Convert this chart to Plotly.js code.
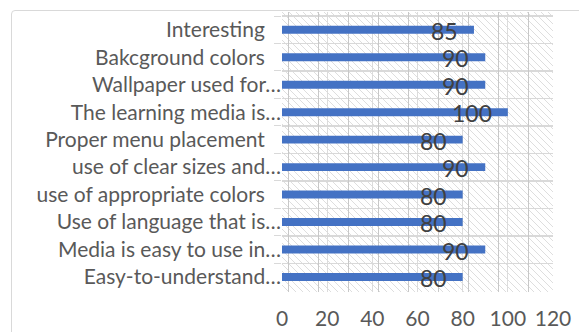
<!DOCTYPE html>
<html>
<head>
<meta charset="utf-8">
<script src="https://cdn.plot.ly/plotly-3.0.1.min.js"></script>
<style>
html,body{margin:0;padding:0;background:#fff;}
#wrap{position:relative;width:579px;height:332px;overflow:hidden;}
#chart{position:absolute;left:0;top:0;width:579px;height:332px;}
#frame{position:absolute;left:11px;top:10px;width:600px;height:400px;border:1.5px solid #d9d9d9;border-radius:4px;pointer-events:none;}
</style>
</head>
<body>
<div id="wrap"><div id="frame"></div><div id="chart"></div></div>
<script>
// Data (top to bottom as shown)
const categories = [
  "Interesting\u00a0\u00a0\u00a0",
  "Bakcground colors\u00a0\u00a0\u00a0",
  "Wallpaper used for…",
  "The learning media is…",
  "Proper menu placement\u00a0\u00a0\u00a0",
  "use of clear sizes and…",
  "use of appropriate colors\u00a0\u00a0\u00a0",
  "Use of language that is…",
  "Media is easy to use in…",
  "Easy-to-understand…"
];
const values = [85, 90, 90, 100, 80, 90, 80, 80, 90, 80];
const xTicks = [0, 20, 40, 60, 80, 100, 120];

const FONT = 'Lato, "Open Sans", sans-serif';

const hatch = 'data:image/svg+xml;utf8,' + encodeURIComponent(
  '<svg xmlns="http://www.w3.org/2000/svg" width="271" height="280">' +
  '<defs><pattern id="p" width="7" height="7" patternUnits="userSpaceOnUse">' +
  '<path d="M-1,-1 L8,8 M-8,-1 L1,8 M6,-1 L15,8" stroke="#dadada" stroke-width="0.9"/></pattern></defs>' +
  '<rect width="271" height="280" fill="url(#p)"/></svg>');

const trace = {
  type: 'bar', orientation: 'h',
  x: values, y: categories,
  width: 0.29,
  marker: {color: '#4472C4', line: {width: 0}},
  hoverinfo: 'none'
};
const trace2 = {
  type: 'scatter', x: [0], y: [categories[0]], xaxis: 'x2',
  mode: 'markers', marker: {opacity: 0}, hoverinfo: 'none', showlegend: false
};

const annotations = values.map((v, i) => ({
  x: v, y: categories[i], xref: 'x', yref: 'y',
  text: String(v), showarrow: false,
  xanchor: 'right', yanchor: 'middle', xshift: -14, yshift: -1,
  font: {family: FONT, size: 23, color: '#404040'}
}));

const layout = {
  width: 579, height: 332,
  margin: {l: 282, r: 26, t: 12, b: 40, pad: 0},
  paper_bgcolor: 'rgba(0,0,0,0)',
  plot_bgcolor: 'rgba(0,0,0,0)',
  showlegend: false,
  font: {family: FONT, color: '#595959'},
  xaxis: {
    range: [0, 120], tickvals: xTicks, ticktext: xTicks.map(String),
    showgrid: true, gridcolor: '#dcdcdc', gridwidth: 1,
    zeroline: false, showline: false, ticks: '',
    tickfont: {size: 21, color: '#595959'}, ticklabelstandoff: 12,
    fixedrange: true
  },
  xaxis2: {
    overlaying: 'x', range: [0, 120], tick0: 8/3, dtick: 40/3,
    showgrid: true, gridcolor: '#c8c8c8', gridwidth: 1,
    showticklabels: false, zeroline: false, ticks: '', side: 'bottom'
  },
  yaxis: {
    autorange: 'reversed', type: 'category',
    tickson: 'boundaries', ticks: 'outside', ticklen: 7, tickcolor: '#d9d9d9',
    showgrid: true, gridcolor: '#d9d9d9', gridwidth: 1.5,
    showline: false, zeroline: false,
    tickfont: {size: 21, color: '#595959'},
    fixedrange: true
  },
  images: [{
    source: hatch, xref: 'paper', yref: 'paper', x: 0, y: 1,
    sizex: 1, sizey: 1, sizing: 'stretch', xanchor: 'left', yanchor: 'top', layer: 'below'
  }],
  annotations: annotations
};

Plotly.newPlot('chart', [trace, trace2], layout, {displayModeBar: false, staticPlot: true});
</script>
</body>
</html>
